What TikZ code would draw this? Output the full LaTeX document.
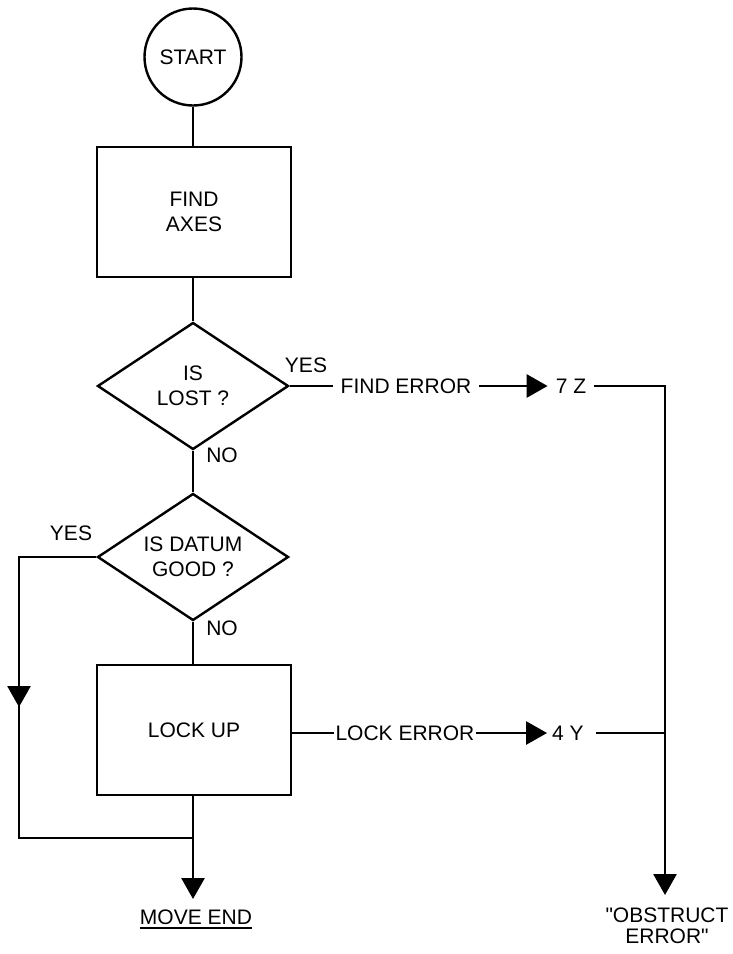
\documentclass[tikz,border=0pt]{standalone}
\usepackage{fontspec}
\setmainfont{Liberation Sans}
\newfontfamily\plainsans{Liberation Sans}
\usetikzlibrary{shapes.geometric,arrows.meta}
\begin{document}
\begin{tikzpicture}[x=1pt,y=-1pt,
  every node/.style={font=\plainsans\fontsize{21}{25}\selectfont},
  boxshape/.style={draw, line width=2.4pt, minimum width=194pt, minimum height=130pt, align=center, inner sep=0pt},
  diashape/.style={draw, diamond, aspect=1.5, line width=2.4pt, minimum width=191pt, minimum height=127pt, align=center, inner sep=0pt},
  startshape/.style={draw, circle, line width=2.4pt, minimum size=97pt, inner sep=0pt},
  conn/.style={line width=2.8pt},
  arr/.style={line width=2.8pt, -{Triangle[length=21pt,width=23pt]}},
  lbl/.style={inner sep=0pt, align=center}]
\useasboundingbox (0,0) rectangle (732,954);

% shapes
\node[startshape] (start) at (193,57) {START};
\node[boxshape] (axes) at (194,212) {FIND\\AXES};
\node[diashape] (lost) at (193,386) {IS\\LOST ?};
\node[diashape] (datum) at (193,557) {IS DATUM\\GOOD ?};
\node[boxshape] (lock) at (194,730) {LOCK UP};

% labels
\node[lbl] (yes1) at (306,365) {YES};
\node[lbl] (no1) at (222,455) {NO};
\node[lbl] (yes2) at (71,533) {YES};
\node[lbl] (no2) at (222,628) {NO};

\node[lbl, inner xsep=7pt] (finderr) at (406,386) {FIND ERROR};
\node[lbl, inner xsep=8pt] (z7) at (571,386) {7 Z};
\node[lbl, inner xsep=1pt] (lockerr) at (405,733) {LOCK ERROR};
\node[lbl, inner xsep=5pt] (y4) at (568,733) {4 Y};

\node[lbl, anchor=base] (moveend) at (196,924)
  {\setbox0\hbox{MOVE END}\rlap{\rule[-5pt]{\wd0}{1.6pt}}\box0};
\node[lbl, anchor=north, font=\plainsans\fontsize{21}{21}\selectfont] (obstruct) at (667,908)
  {"OBSTRUCT\\ERROR"};

% coordinates
\coordinate (corner) at (665,386);
\coordinate (otip) at (665,895);
\coordinate (mtip) at (193,899);
\coordinate (loopa) at (19,557);
\coordinate (loopb) at (19,838);
\coordinate (larr) at (19,707);

% connectors
\draw[conn] (start.south) -- (start.south |- axes.north);
\draw[conn] (start.south |- axes.south) -- (lost.north);
\draw[conn] (lost.south) -- (datum.north);
\draw[conn] (datum.south) -- (datum.south |- lock.north);
\draw[arr] (datum.south |- lock.south) -- (mtip);

\draw[conn] (lost.east) -- (finderr.west);
\draw[arr] (finderr.east) -- (z7.west);
\draw[arr] (z7.east) -- (corner) -- (otip);

\draw[conn] (lock.east |- lockerr.west) -- (lockerr.west);
\draw[arr] (lockerr.east) -- (y4.west);
\draw[conn] ([xshift=7pt]y4.east) -- (y4.east -| otip);

\draw[conn] (datum.west) -- (loopa) -- (loopb) -- (loopb -| mtip);
\draw[arr] (loopa) -- (larr);
\end{tikzpicture}
\end{document}
